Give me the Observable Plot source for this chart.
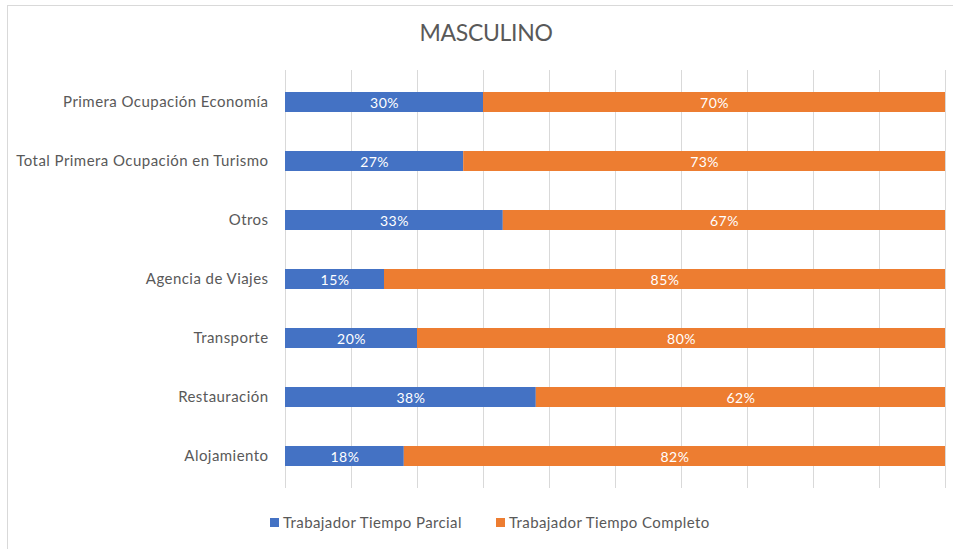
<!DOCTYPE html>
<html>
<head>
<meta charset="utf-8">
<script src="https://cdn.jsdelivr.net/npm/d3@7"></script>
<script src="https://cdn.jsdelivr.net/npm/@observablehq/plot@0.6"></script>
<style>
  body { margin: 0; background: #fff; font-family: Lato, "Open Sans", sans-serif; }
  #wrap { position: relative; width: 953px; height: 549px; overflow: hidden; }
  #frame { position: absolute; left: 7px; top: 5px; width: 980px; height: 580px; border: 1px solid #d9d9d9; box-sizing: border-box; }
  #title { position: absolute; left: 7px; width: 958px; top: 18px; text-align: center; font-size: 23px; color: #595959; font-weight: 400; letter-spacing: -0.3px; }
  #plot { position: absolute; left: 0; top: 65px; }
  #plot svg text { letter-spacing: 0.45px; }
  #legend { position: absolute; left: 0; top: 513px; width: 953px; font-size: 15px; color: #595959; letter-spacing: 0.4px; }
  .li { position: absolute; top: 0; display: flex; align-items: center; gap: 4px; }
  .sw { width: 9px; height: 9px; display: inline-block; }
</style>
</head>
<body>
<div id="wrap">
  <div id="frame"></div>
  <div id="title">MASCULINO</div>
  <div id="plot"></div>
  <div id="legend"></div>
</div>
<script>
const categories = [
  "Primera Ocupación Economía",
  "Total Primera Ocupación en Turismo",
  "Otros",
  "Agencia de Viajes",
  "Transporte",
  "Restauración",
  "Alojamiento"
];
const series = ["Trabajador Tiempo Parcial", "Trabajador Tiempo Completo"];
const parcial = [30, 27, 33, 15, 20, 38, 18];
const completo = [70, 73, 67, 85, 80, 62, 82];
const colors = ["#4472C4", "#ED7D31"];
const gridTicks = [0, 10, 20, 30, 40, 50, 60, 70, 80, 90, 100];

const data = [];
categories.forEach((c, i) => {
  data.push({cat: c, series: series[0], value: parcial[i]});
  data.push({cat: c, series: series[1], value: completo[i]});
});

const chart = Plot.plot({
  width: 953,
  height: 435,
  marginLeft: 285,
  marginRight: 8,
  marginTop: 5,
  marginBottom: 12,
  style: {fontFamily: "Lato, 'Open Sans', sans-serif", fontSize: "15px", color: "#595959", background: "transparent"},
  x: {domain: [0, 100], axis: null},
  y: {domain: categories, paddingInner: 0.66, paddingOuter: 0.33, label: null, tickSize: 0, tickPadding: 17},
  color: {domain: series, range: colors},
  marks: [
    Plot.ruleX(gridTicks, {stroke: "#d9d9d9", strokeWidth: 1}),
    Plot.barX(data, Plot.stackX({x: "value", y: "cat", fill: "series", order: series})),
    Plot.text(data, Plot.stackX({x: "value", y: "cat", z: "series", order: series,
      text: d => d.value + "%", fill: "white", fontSize: 14, dy: 1}))
  ]
});
document.getElementById("plot").appendChild(chart);

const legend = document.getElementById("legend");
const lx = [270, 496];
series.forEach((s, i) => {
  const el = document.createElement("div");
  el.className = "li";
  el.style.left = lx[i] + "px";
  el.innerHTML = `<span class="sw" style="background:${colors[i]}"></span><span>${s}</span>`;
  legend.appendChild(el);
});
</script>
</body>
</html>
